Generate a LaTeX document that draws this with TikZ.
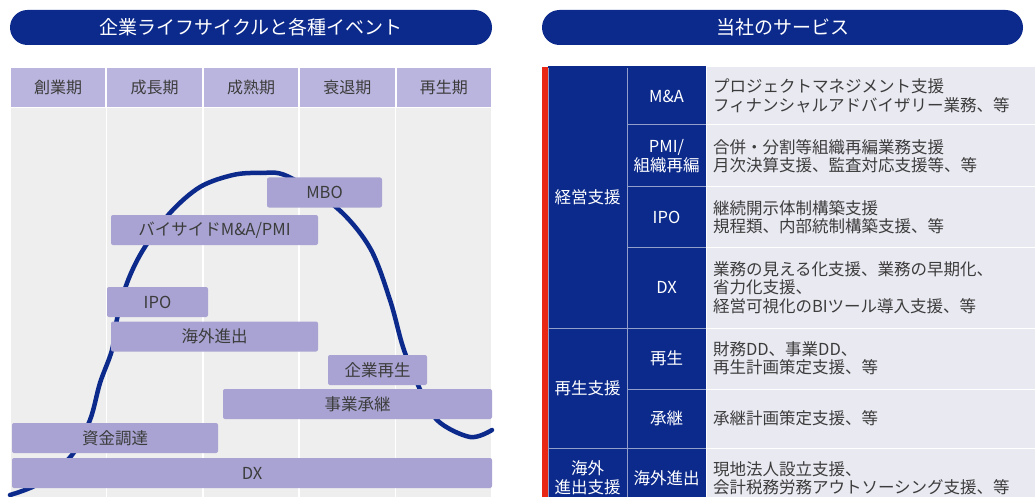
\documentclass[tikz,border=0pt]{standalone}
\usepackage{fontspec}
\setmainfont{Noto Sans CJK JP}
\definecolor{navy}{RGB}{12,42,140}
\definecolor{headc}{RGB}{186,181,222}
\definecolor{evtc}{RGB}{168,163,210}
\definecolor{bodyc}{RGB}{238,238,238}
\definecolor{svcc}{RGB}{233,233,242}
\definecolor{txtc}{RGB}{60,60,60}
\definecolor{redc}{RGB}{232,40,20}
\colorlet{linec}{white!55!navy}

\begin{document}
\begin{tikzpicture}[x=1pt, y=-1pt,
  pill/.style={fill=navy, rounded corners=17.5pt, minimum height=35pt, inner sep=0pt, text=white, font=\fontsize{19}{21}\selectfont},
  period/.style={fill=headc, minimum width=94.5pt, minimum height=39pt, inner sep=0pt, text=txtc, font=\fontsize{16}{18}\selectfont},
  evt/.style={fill=evtc, rounded corners=2pt, minimum height=30pt, inner sep=0pt, text=txtc, font=\fontsize{16.5}{18}\selectfont},
  cat/.style={fill=navy, draw=linec, line width=1pt, minimum width=79pt, inner sep=0pt, text=white, align=center, font=\fontsize{16.5}{19}\selectfont},
  svc/.style={fill=svcc, draw=white, line width=1pt, text width=315pt, inner xsep=7pt, inner ysep=0pt, align=left, text=txtc, font=\fontsize{16.5}{18.5}\selectfont}
]
  \path[use as bounding box, clip] (0,0) rectangle (1035,497);

  \node[pill, minimum width=482pt] (life) at (251,27.5) {企業ライフサイクルと各種イベント};
  \foreach \lab [count=\i] in {創業期,成長期,成熟期,衰退期,再生期}
  {
    \node[period] (p\i) at (58.2+96.4*\i-96.4, 87.5) {\lab};
    \fill[bodyc] ([yshift=-1pt]p\i.south west) rectangle (p\i.east |- 0,497);
  }
  \draw[navy, line width=4.5pt, line cap=round] plot[smooth, tension=0.55] coordinates
    {(10,495) (40,483) (72,455) (90,420) (100,383) (112,350) (117,319) (127,283) (143,250)
     (170,213) (200,187) (233,175) (260,173) (287,176) (337,208) (370,248) (390,300)
     (403,347) (418,385) (437,420) (470,437) (492,430)};
  \node[evt, minimum width=115pt] (mbo) at (324.5,192.5) {MBO};
  \node[evt, minimum width=207pt] (buy) at (214.5,230) {バイサイドM\&A/PMI};
  \node[evt, minimum width=101pt] (ipo) at (157.5,302) {IPO};
  \node[evt, minimum width=207pt] (abroad) at (214.5,336.5) {海外進出};
  \node[evt, minimum width=99pt] (revive) at (377.5,370) {企業再生};
  \node[evt, minimum width=269pt] (succ) at (357.5,404) {事業承継};
  \node[evt, minimum width=206pt] (fund) at (115,438) {資金調達};
  \node[evt, minimum width=480pt] (dx) at (252,473) {DX};

  \node[pill, minimum width=481pt] (svc) at (782.5,27.5) {当社のサービス};
  \fill[redc] (542,67) rectangle (548,497);
  \node[cat, minimum height=261pt] (k1) at (587.5,197.5) {経営支援};
  \node[cat, minimum height=120pt] (k2) at (587.5,388) {再生支援};
  \node[cat, minimum height=60pt] (k3) at (587.5,478) {海外\\進出支援};
  \node[cat, minimum height=58pt] (s1) at (666.5,96) {M\&A};
  \node[cat, minimum height=62pt] (s2) at (666.5,156) {PMI/\\組織再編};
  \node[cat, minimum height=60pt] (s3) at (666.5,217) {IPO};
  \node[cat, minimum height=81pt] (s4) at (666.5,287.5) {DX};
  \node[cat, minimum height=61pt] (s5) at (666.5,358.5) {再生};
  \node[cat, minimum height=59pt] (s6) at (666.5,418.5) {承継};
  \node[cat, minimum height=60pt] (s7) at (666.5,478) {海外進出};
  \fill[navy] (548,66.5) rectangle (706,68);
  \node[svc, minimum height=58pt] (d1) at (870.5,96) {プロジェクトマネジメント支援\\フィナンシャルアドバイザリー業務、等};
  \node[svc, minimum height=62pt] (d2) at (870.5,156) {合併・分割等組織再編業務支援\\月次決算支援、監査対応支援等、等};
  \node[svc, minimum height=60pt] (d3) at (870.5,217) {継続開示体制構築支援\\規程類、内部統制構築支援、等};
  \node[svc, minimum height=81pt] (d4) at (870.5,287.5) {業務の見える化支援、業務の早期化、\\省力化支援、\\経営可視化のBIツール導入支援、等};
  \node[svc, minimum height=61pt] (d5) at (870.5,358.5) {財務DD、事業DD、\\再生計画策定支援、等};
  \node[svc, minimum height=59pt] (d6) at (870.5,418.5) {承継計画策定支援、等};
  \node[svc, minimum height=60pt] (d7) at (870.5,478) {現地法人設立支援、\\会計税務労務アウトソーシング支援、等};
\end{tikzpicture}
\end{document}
